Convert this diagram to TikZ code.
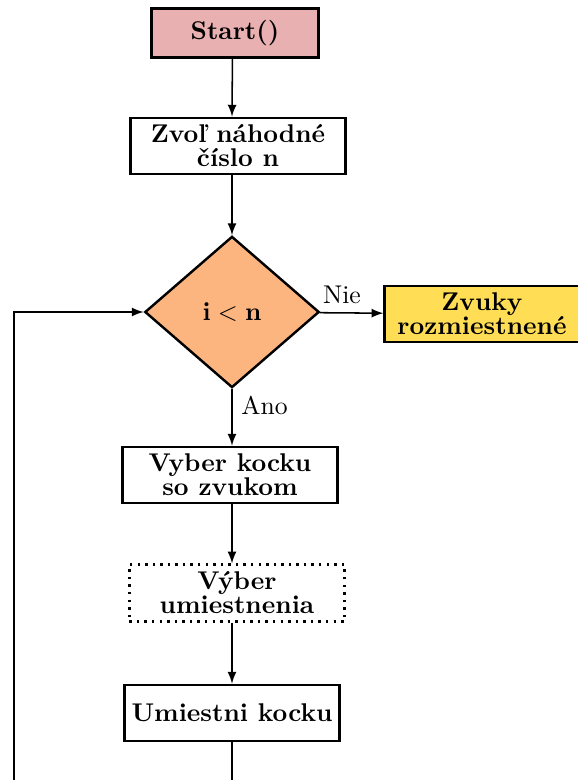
\documentclass[tikz,border=0pt]{standalone}
\usepackage{amsmath,amssymb}
\usetikzlibrary{shapes.geometric}
\definecolor{startpink}{HTML}{E8B0B0}
\definecolor{condorange}{HTML}{FDB580}
\definecolor{endyellow}{HTML}{FFDD55}
\tikzset{
 bx/.style={rectangle,draw,line width=0.95pt,align=center,font=\bfseries\linespread{0.78}\selectfont,inner sep=2pt,minimum width=84pt,minimum height=22pt},
 sx/.style={bx,fill=startpink,minimum width=65pt,minimum height=19pt},
 ex/.style={bx,fill=endyellow,minimum width=76pt},
 dx/.style={bx,dotted,line width=1.1pt},
 cx/.style={diamond,draw,line width=0.95pt,fill=condorange,aspect=1.15,inner sep=0pt,minimum width=68pt,minimum height=59pt},
 ar/.style={->,>=latex,semithick}}
\begin{document}
\begin{tikzpicture}[x=0.39pt,y=-0.39pt]
 \useasboundingbox (0,0) rectangle (577,780);
 \node[sx] (start) at (235,33) {Start()};
 \node[bx] (rand) at (238,146) {Zvoľ náhodné\\číslo n};
 \node[cx] (cond) at (232,312) {$\mathbf{i<n}$};
 \node[ex] (done) at (482,314) {Zvuky\\rozmiestnené};
 \node[bx] (pick) at (230,475) {Vyber kocku\\so zvukom};
 \node[dx] (where) at (237,593) {Výber\\umiestnenia};
 \node[bx] (place) at (232,713) {Umiestni kocku};
 \coordinate (loop) at (14,830);
 \draw[ar] ([xshift=-1pt]start.south) -- (cond.north |- rand.north);
 \draw[ar] (cond.north |- rand.south) -- (cond);
 \draw[ar] (cond) -- node[above,pos=0.35] {Nie} (done);
 \draw[ar] (cond) -- node[right,pos=0.3] {Ano} (cond.south |- pick.north);
 \draw[ar] (cond.south |- pick.south) -- (cond.south |- where.north);
 \draw[ar] (place.north |- where.south) -- (place);
 \draw[ar] (place) -- (place |- loop) -- (loop) |- (cond);
\end{tikzpicture}
\end{document}
